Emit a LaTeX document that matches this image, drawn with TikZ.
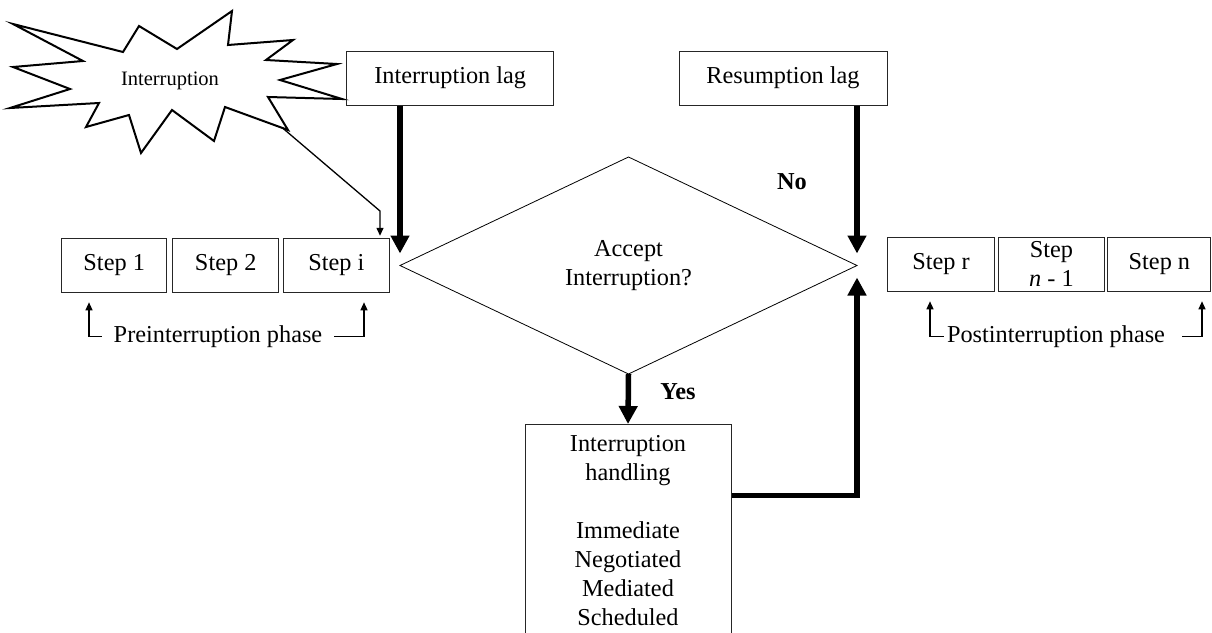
\documentclass[tikz,border=0pt]{standalone}
\usepackage{fontspec}
\setmainfont{Liberation Serif}
\usetikzlibrary{arrows.meta,shapes.geometric}
\begin{document}
\begin{tikzpicture}[x=1pt,y=-1pt,
  every node/.style={font=\fontsize{24.3}{29}\selectfont},
  box/.style={draw=black!85, line width=1pt, inner sep=0pt, minimum height=54pt, align=center},
  thickarrow/.style={line width=5.5pt, -{Triangle[width=18pt,length=18pt]}},
  thinarrow/.style={line width=1.3pt, -{Triangle[width=7pt,length=8pt]}},
  lbl/.style={font=\fontsize{24.3}{29}\selectfont\bfseries},
  phase/.style={inner xsep=12pt, inner ysep=0pt}]
\useasboundingbox (0,0) rectangle (1212,632);

% starburst
\draw[line width=2pt, line join=miter] (13,24) -- (123,52) -- (139,26) -- (177,49) -- (232,11) -- (228,45)
  -- (293,40) -- (266,60) -- (337,64) -- (280,80) -- (342,99) -- (268,97) -- (288,130)
  -- (225,107) -- (214,141) -- (172,110) -- (141,153) -- (129,115) -- (86,127) -- (99,103)
  -- (10,108) -- (70,89) -- (13,67) -- (83,61) -- cycle;
\node[font=\fontsize{20.5}{24}\selectfont] (burst) at (170,81) {Interruption};
\coordinate (bs) at (282,127.5);
\coordinate (bend) at (380,211);

% step boxes
\node[box, minimum width=105pt] (s1) at (114.2,265.3) {Step 1};
\node[box, minimum width=106pt] (s2) at (225.7,265.3) {Step 2};
\node[box, minimum width=106pt] (si) at (336.3,265.3) {Step i};
\node[box, minimum width=106.6pt] (sr) at (941,264.3) {Step r};
\node[box, minimum width=105.6pt] (sn1) at (1051.5,264.3) {Step\\\textit{n} - 1};
\node[box, minimum width=103pt] (sn) at (1159.4,264.3) {Step n};

% lag boxes
\node[box, minimum width=206.5pt] (ilag) at (450.2,78) {Interruption lag};
\node[box, minimum width=208pt] (rlag) at (783,78) {Resumption lag};

% decision
\node[draw, diamond, line width=0.8pt, minimum width=457pt, minimum height=217pt,
  inner sep=0pt, outer sep=0pt, align=center] (dia) at (628.5,265.5) {Accept\\Interruption?};

% handling
\node[box, anchor=north, minimum width=206pt, inner ysep=11pt] (hand) at (628,424)
  {Interruption\\handling\\[29pt]Immediate\\Negotiated\\Mediated\\Scheduled};

% labels
\node[lbl] (no) at (792,182) {No};
\node[lbl] (yes) at (678,392) {Yes};

% connectors
\draw[thinarrow, shorten >=2pt] (bs) -- (bend) -- (bend |- si.north);
\draw[thickarrow] (ilag.south -| dia.west) -- ([yshift=12pt]dia.west);
\draw[thickarrow] (rlag.south -| dia.east) -- ([yshift=12pt]dia.east);
\draw[thickarrow] (dia.south) -- (hand.north);
\draw[thickarrow, line join=miter] ([yshift=35pt]hand.east) -| ([yshift=-12pt]dia.east);

% phases
\node[phase] (pre) at (218,336.5) {Preinterruption phase};
\coordinate (pl) at (89,336.5);
\coordinate (pr) at (364,336.5);
\draw[thinarrow, shorten >=9.5pt] (pl) -- (pl |- s1.south);
\draw[thinarrow, shorten >=9.5pt] (pr) -- (pr |- si.south);
\draw[line width=1.3pt] (pl) -- (pre.west);
\draw[line width=1.3pt] (pr) -- (pre.east);

\node[phase, inner xsep=3pt] (post) at (1056,336.5) {Postinterruption phase};
\coordinate (ql) at (930,336.5);
\coordinate (qr) at (1202,336.5);
\draw[thinarrow, shorten >=9.5pt] (ql) -- (ql |- sr.south);
\draw[thinarrow, shorten >=9.5pt] (qr) -- (qr |- sn.south);
\draw[line width=1.3pt] (ql) -- (post.west);
\draw[line width=1.3pt] (qr) -- ([xshift=14pt]post.east);
\end{tikzpicture}
\end{document}
